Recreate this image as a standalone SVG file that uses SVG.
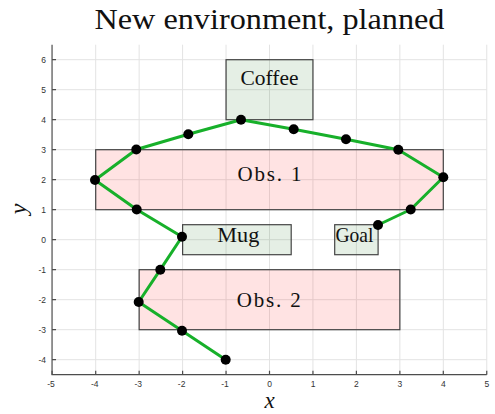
<svg xmlns="http://www.w3.org/2000/svg" width="495" height="414" viewBox="0 0 495 414">
<style>
.grid line{stroke:#e3e3e3;stroke-width:1}
.axis{stroke:#4d4d4d;stroke-width:1.2;fill:none}
.tick{font-family:"Liberation Sans",Arial,sans-serif;font-size:8.5px;fill:#333}
.lab{font-family:"Liberation Serif","Times New Roman",serif;font-size:21px;fill:#111}
.obs{fill:#ff0000;fill-opacity:0.11;stroke:#444;stroke-width:1.2}
.obj{fill:#006400;fill-opacity:0.1;stroke:#444;stroke-width:1.2}
.path{fill:none;stroke:#17b02a;stroke-width:3;stroke-linejoin:round}
.dot{fill:#000}
</style>
<rect width="495" height="414" fill="#fff"/>
<text x="269.5" y="29" text-anchor="middle" font-family="'Liberation Serif','Times New Roman',serif" font-size="30" textLength="350" lengthAdjust="spacingAndGlyphs" fill="#111">New environment, planned</text>
<g class="grid">
<line x1="95.7" y1="44.7" x2="95.7" y2="374.7"/>
<line x1="139.15" y1="44.7" x2="139.15" y2="374.7"/>
<line x1="182.6" y1="44.7" x2="182.6" y2="374.7"/>
<line x1="226.05" y1="44.7" x2="226.05" y2="374.7"/>
<line x1="269.5" y1="44.7" x2="269.5" y2="374.7"/>
<line x1="312.95" y1="44.7" x2="312.95" y2="374.7"/>
<line x1="356.4" y1="44.7" x2="356.4" y2="374.7"/>
<line x1="399.85" y1="44.7" x2="399.85" y2="374.7"/>
<line x1="443.3" y1="44.7" x2="443.3" y2="374.7"/>
<line x1="486.75" y1="44.7" x2="486.75" y2="374.7"/>
<line x1="52" y1="59.7" x2="486.75" y2="59.7"/>
<line x1="52" y1="89.7" x2="486.75" y2="89.7"/>
<line x1="52" y1="119.7" x2="486.75" y2="119.7"/>
<line x1="52" y1="149.7" x2="486.75" y2="149.7"/>
<line x1="52" y1="179.7" x2="486.75" y2="179.7"/>
<line x1="52" y1="209.7" x2="486.75" y2="209.7"/>
<line x1="52" y1="239.7" x2="486.75" y2="239.7"/>
<line x1="52" y1="269.7" x2="486.75" y2="269.7"/>
<line x1="52" y1="299.7" x2="486.75" y2="299.7"/>
<line x1="52" y1="329.7" x2="486.75" y2="329.7"/>
<line x1="52" y1="359.7" x2="486.75" y2="359.7"/>
</g>
<g id="axes">
<path class="axis" d="M52.05 44.7V374.7H486.75"/>
<path class="axis" d="M52.05 59.7h4M52.05 89.7h4M52.05 119.7h4M52.05 149.7h4M52.05 179.7h4M52.05 209.7h4M52.05 239.7h4M52.05 269.7h4M52.05 299.7h4M52.05 329.7h4M52.05 359.7h4"/>
<path class="axis" d="M52.05 374.7v-4M95.7 374.7v-4M139.15 374.7v-4M182.6 374.7v-4M226.05 374.7v-4M269.5 374.7v-4M312.95 374.7v-4M356.4 374.7v-4M399.85 374.7v-4M443.3 374.7v-4M486.75 374.7v-4"/>
<g class="tick" text-anchor="end">
<text x="46" y="62.7">6</text>
<text x="46" y="92.7">5</text>
<text x="46" y="122.7">4</text>
<text x="46" y="152.7">3</text>
<text x="46" y="182.7">2</text>
<text x="46" y="212.7">1</text>
<text x="46" y="242.7">0</text>
<text x="46" y="272.7">-1</text>
<text x="46" y="302.7">-2</text>
<text x="46" y="332.7">-3</text>
<text x="46" y="362.7">-4</text>
</g>
<g class="tick" text-anchor="middle">
<text x="51" y="387">-5</text>
<text x="94.7" y="387">-4</text>
<text x="138.2" y="387">-3</text>
<text x="181.6" y="387">-2</text>
<text x="225" y="387">-1</text>
<text x="269.5" y="387">0</text>
<text x="313" y="387">1</text>
<text x="356.4" y="387">2</text>
<text x="399.9" y="387">3</text>
<text x="443.3" y="387">4</text>
<text x="486.8" y="387">5</text>
</g>
<text x="269.5" y="408" text-anchor="middle" font-family="'Liberation Serif','Times New Roman',serif" font-style="italic" font-size="23" fill="#111">x</text>
<text transform="translate(26 209) rotate(-90)" text-anchor="middle" font-family="'Liberation Serif','Times New Roman',serif" font-style="italic" font-size="24" fill="#111">y</text>
</g>
<g id="coffee">
<rect class="obj" x="226.05" y="59.7" width="86.9" height="60"/>
<text class="lab" x="269.5" y="85" text-anchor="middle" textLength="58" lengthAdjust="spacingAndGlyphs">Coffee</text>
</g>
<g id="obs1">
<rect class="obs" x="95.7" y="149.7" width="347.6" height="60"/>
<text class="lab" x="269.5" y="181" text-anchor="middle" textLength="64" lengthAdjust="spacing">Obs. 1</text>
</g>
<g id="mug">
<rect class="obj" x="182.6" y="224.7" width="108.6" height="30"/>
<text class="lab" x="238.3" y="241.7" text-anchor="middle" textLength="42" lengthAdjust="spacingAndGlyphs">Mug</text>
</g>
<g id="goal">
<rect class="obj" x="334.7" y="224.7" width="43.4" height="30"/>
<text class="lab" x="354.4" y="241.7" text-anchor="middle" textLength="38" lengthAdjust="spacingAndGlyphs">Goal</text>
</g>
<g id="obs2">
<rect class="obs" x="139.15" y="269.7" width="260.7" height="60"/>
<text class="lab" x="268.7" y="306.7" text-anchor="middle" textLength="64" lengthAdjust="spacing">Obs. 2</text>
</g>
<g id="connectors">
<polyline class="path" points="225.7,359.7 182,330.7 138.7,302 160.3,269.7 182,236.7 136.7,209.5 95,180 136.3,149.5 188.3,134.3 241,119.7 293.7,129.3 346,139.3 398.3,149.7 443.3,177.3 410.7,209.5 378,225"/>
<g class="dot">
<circle cx="225.7" cy="359.7" r="5"/>
<circle cx="182" cy="330.7" r="5"/>
<circle cx="138.7" cy="302" r="5"/>
<circle cx="160.3" cy="269.7" r="5"/>
<circle cx="182" cy="236.7" r="5"/>
<circle cx="136.7" cy="209.5" r="5"/>
<circle cx="95" cy="180" r="5"/>
<circle cx="136.3" cy="149.5" r="5"/>
<circle cx="188.3" cy="134.3" r="5"/>
<circle cx="241" cy="119.7" r="5"/>
<circle cx="293.7" cy="129.3" r="5"/>
<circle cx="346" cy="139.3" r="5"/>
<circle cx="398.3" cy="149.7" r="5"/>
<circle cx="443.3" cy="177.3" r="5"/>
<circle cx="410.7" cy="209.5" r="5"/>
<circle cx="378" cy="225" r="5"/>
</g>
</g>
</svg>
